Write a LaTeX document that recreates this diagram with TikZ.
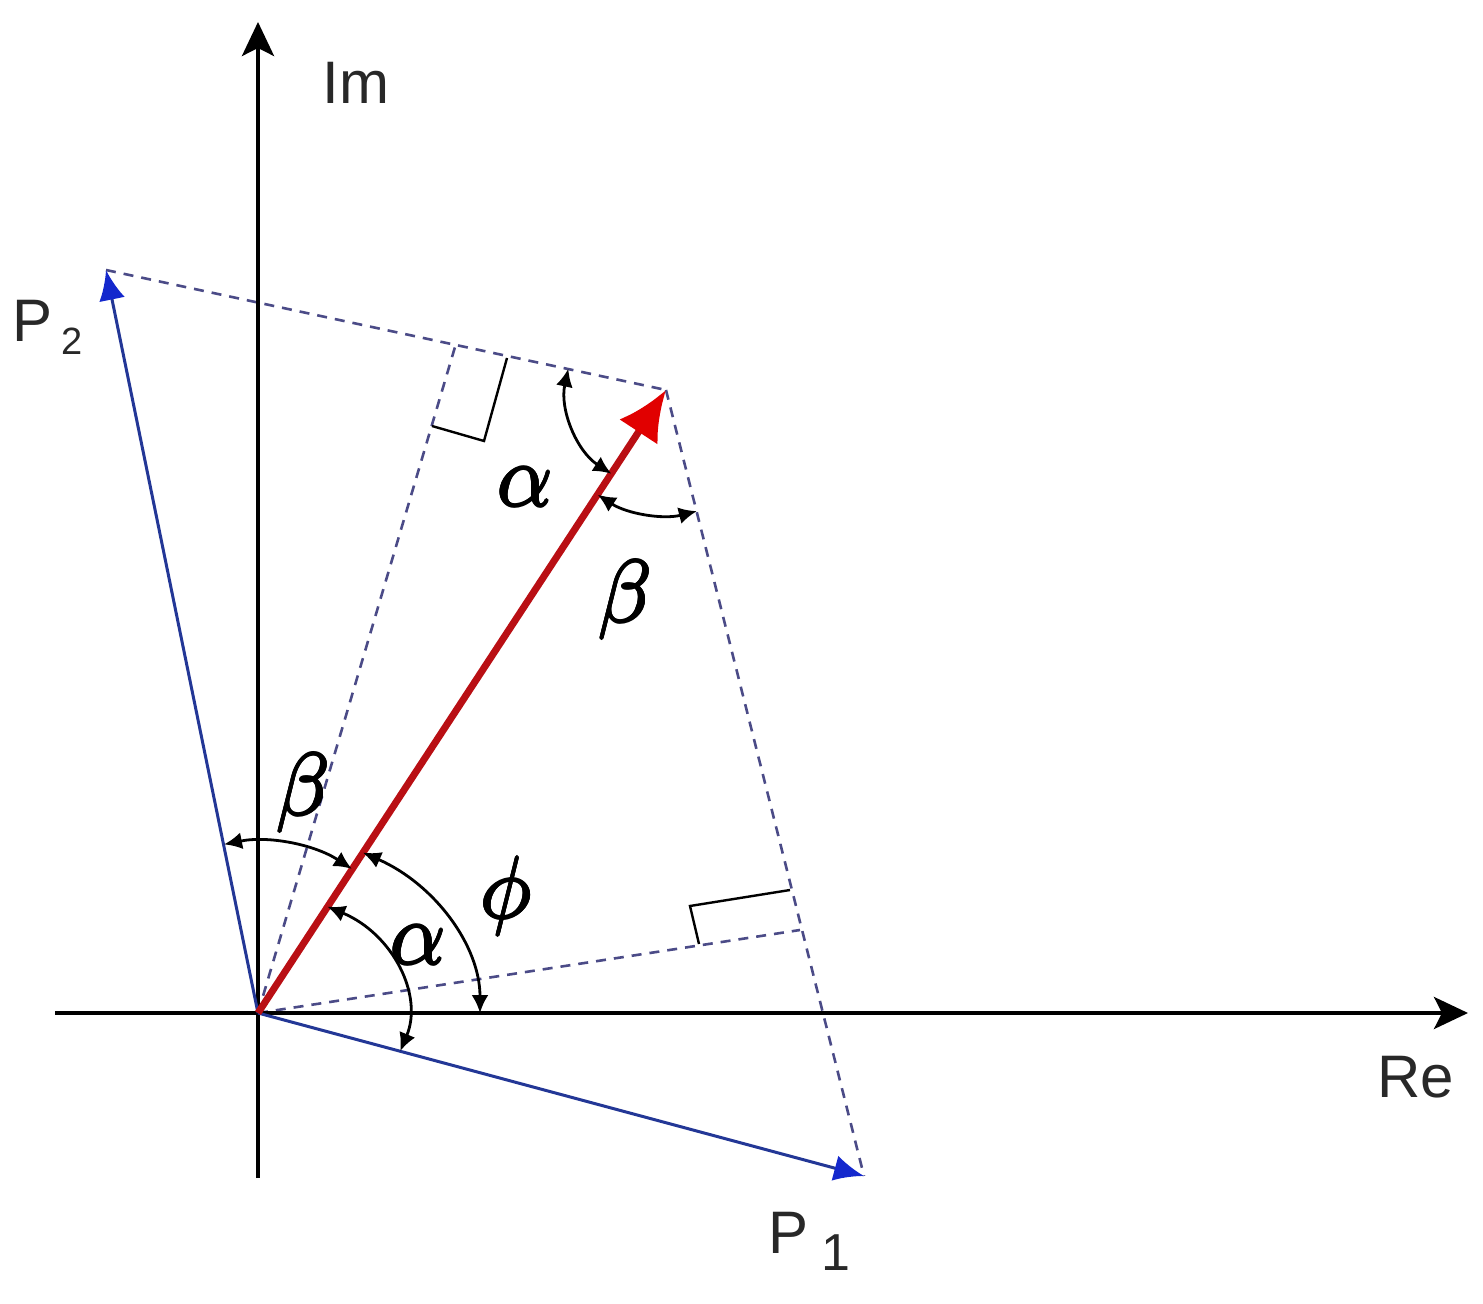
\RequirePackage{fix-cm}
\documentclass[tikz,border=0pt]{standalone}
\usepackage{fontspec}
\setmainfont{Liberation Sans}
\usetikzlibrary{arrows.meta,calc}
\definecolor{pblue}{RGB}{35,55,150}
\definecolor{pbluehead}{RGB}{20,40,205}
\definecolor{vred}{RGB}{185,15,20}
\definecolor{vredhead}{RGB}{225,0,0}
\definecolor{dashcol}{RGB}{75,75,135}
\definecolor{lblcol}{RGB}{40,40,40}
\newcommand\gthick[1]{%
  \rlap{\kern0.55pt$#1$}%
  \rlap{\kern-0.55pt$#1$}%
  \rlap{\raisebox{0.55pt}{$#1$}}%
  \rlap{\raisebox{-0.55pt}{$#1$}}%
  \rlap{\kern0.4pt\raisebox{0.4pt}{$#1$}}%
  \rlap{\kern-0.4pt\raisebox{0.4pt}{$#1$}}%
  \rlap{\kern0.4pt\raisebox{-0.4pt}{$#1$}}%
  \rlap{\kern-0.4pt\raisebox{-0.4pt}{$#1$}}%
  $#1$}
\begin{document}
\begin{tikzpicture}[x=0.5pt,y=-0.5pt,
  axis/.style={line width=2pt, -{Stealth[length=17pt,width=16pt,inset=4pt]}},
  pvec/.style={pblue, line width=1.5pt, -{Latex[length=15pt,width=13pt,color=pbluehead]}},
  rvec/.style={vred, line width=3.5pt, -{Latex[length=25pt,width=23pt,color=vredhead]}},
  aux/.style={dashcol, line width=1.3pt, dash pattern=on 5pt off 4pt},
  rmark/.style={black, line width=1.2pt},
  ang/.style={black, line width=1.4pt, {Latex[length=9pt,width=8.5pt]}-{Latex[length=9pt,width=8.5pt]}},
  lbl/.style={font=\fontsize{30pt}{34pt}\selectfont, text=lblcol, inner sep=0pt},
  glbl/.style={font=\fontsize{44pt}{50pt}\selectfont, inner sep=0pt},
]
\useasboundingbox (0,0) rectangle (1483,1304);
\coordinate (O) at (258,1013);
\coordinate (ReL) at (55,1013);
\coordinate (ReR) at (1468,1013);
\coordinate (ImB) at (258,1178);
\coordinate (ImT) at (258,22);
\coordinate (P2) at (106,270);
\coordinate (P1) at (864,1176);
\coordinate (R) at (666,390);
\coordinate (T1) at (455,347);
\coordinate (T2) at (800,930);
% right-angle mark corners
\coordinate (m1a) at (507,358);
\coordinate (m1b) at (484,441);
\coordinate (m1c) at (432,426);
\coordinate (m2a) at (790,890);
\coordinate (m2b) at (690,906);
\coordinate (m2c) at (699,944);

% dashed construction lines
\draw[aux] (P2) -- (R);
\draw[aux] (R) -- (P1);
\draw[aux] (O) -- (T1);
\draw[aux] (O) -- (T2);

% right-angle marks
\draw[rmark] (m1a) -- (m1b) -- (m1c);
\draw[rmark] (m2a) -- (m2b) -- (m2c);

% axes
\draw[axis] (ReL) -- (ReR);
\draw[axis] (ImB) -- (ImT);

% vectors
\draw[pvec] (O) -- (P2);
\draw[pvec] (O) -- (P1);
\draw[rvec] (O) -- (R);

% angle arcs
\draw[ang] ($(R)+(192.3:100)$) arc[start angle=192.3, end angle=123.1, radius=100];
\draw[ang] ($(R)+(123.1:125)$) arc[start angle=123.1, end angle=75.7, radius=125];
\draw[ang] ($(O)+(-101.4:172)$) arc[start angle=-101.4, end angle=-56.9, radius=172];
\draw[ang] ($(O)+(-61.8:222 and 182)$) arc[start angle=-61.8, end angle=0, x radius=222, y radius=182];
\draw[ang] ($(O)+(-62.5:150 and 120)$) arc[start angle=-62.5, end angle=18.5, x radius=150, y radius=120];

% labels
\node[lbl] (lIm) at (356,83) {Im};
\node[lbl] (lRe) at (1416,1077) {Re};
\node[lbl, anchor=base west] (lP2) at (12,342) {P\hspace{4.5pt}\raisebox{-6.5pt}{\fontsize{19pt}{20pt}\selectfont 2}};
\node[lbl, anchor=base west] (lP1) at (768,1253) {P\hspace{6.5pt}\raisebox{-8.5pt}{\fontsize{26pt}{28pt}\selectfont 1}};
\node[glbl] (ga1) at (525,487) {\gthick{\alpha}};
\node[glbl] (gb1) at (625,600) {\gthick{\beta}};
\node[glbl] (gb2) at (303,793) {\gthick{\beta}};
\node[glbl] (gphi) at (506,896) {\gthick{\phi}};
\node[glbl] (ga2) at (418,945) {\gthick{\alpha}};
\end{tikzpicture}
\end{document}
